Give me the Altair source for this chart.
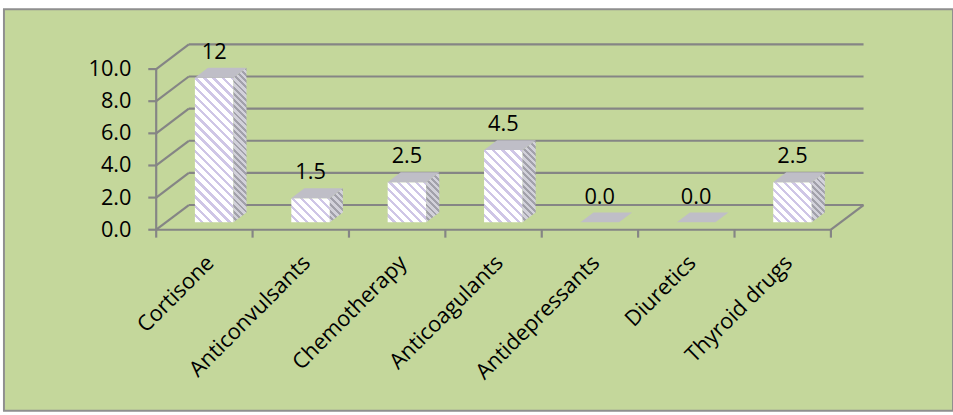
import altair as alt
import pandas as pd

# ---------------- data ----------------
categories = ["Cortisone", "Anticonvulsants", "Chemotherapy", "Anticoagulants",
              "Antidepressants", "Diuretics", "Thyroid drugs"]
bar_values = [9.0, 1.5, 2.5, 4.5, 0.0, 0.0, 2.5]
value_labels = ["12", "1.5", "2.5", "4.5", "0.0", "0.0", "2.5"]
y_ticks = [0, 2, 4, 6, 8, 10]
y_tick_labels = ["0.0", "2.0", "4.0", "6.0", "8.0", "10.0"]

# ---------------- geometry (pixels per data unit, 3-D depth) ----------------
PX, PY = 97.5, 16.25          # px per category / px per value unit
X0, Y0 = 154, 223             # view pixel of (0, 0)
W, H = 960, 406               # view size
DX, DY = 33 / PX, 25 / PY     # full floor depth in data units
BAR_W, F0, F1 = 0.4, 0.3, 0.7 # bar width, bar depth start/end fractions
N = len(categories)
YMAX = max(y_ticks)

xs = alt.Scale(domain=[-X0 / PX, (W - X0) / PX], nice=False, zero=False)
ys = alt.Scale(domain=[(Y0 - H) / PY, Y0 / PY], nice=False, zero=False)

GRID = "#858585"
FONT = "Open Sans"


def stripes(w, h, period, c_a, c_b, frac_b):
    """diagonal '\\' hatch as a linear gradient over a w x h pixel box"""
    a = (w + h) * w / (w * w + h * h)
    n = max(1, int(round((w + h) / (period * 2 ** 0.5))))
    stops = []
    for k in range(n):
        s0, s1 = k / n, (k + 1) / n
        m = s0 + (1 - frac_b) * (s1 - s0)
        stops += [alt.GradientStop(offset=s0, color=c_a), alt.GradientStop(offset=m, color=c_a),
                  alt.GradientStop(offset=m, color=c_b), alt.GradientStop(offset=s1, color=c_b)]
    return alt.LinearGradient(gradient="linear", stops=stops, x1=0, y1=1, x2=a, y2=1 - a * h / w)


# ---------------- wall / floor lines ----------------
seg = []
for t in y_ticks:
    seg.append(dict(x=0, y=t, x2=DX, y2=t + DY))
    seg.append(dict(x=DX, y=t + DY, x2=N + DX, y2=t + DY))
    seg.append(dict(x=-8 / PX, y=t, x2=0, y2=t))
seg.append(dict(x=0, y=0, x2=0, y2=YMAX))
seg.append(dict(x=0, y=0, x2=N, y2=0))
seg.append(dict(x=N, y=0, x2=N + DX, y2=DY))
for i in range(N + 1):
    seg.append(dict(x=i, y=0, x2=i, y2=-8 / PY))
seg_df = pd.DataFrame(seg)

lines = alt.Chart(seg_df).mark_rule(color=GRID, strokeWidth=2.2).encode(
    x=alt.X("x:Q", scale=xs, axis=None),
    y=alt.Y("y:Q", scale=ys, axis=None),
    x2="x2:Q", y2="y2:Q")

# ---------------- bars ----------------
layers_bars = []
top = []
dxb, dyb = (F1 - F0) * DX, (F1 - F0) * DY
for i, (c, v) in enumerate(zip(categories, bar_values)):
    xl = i + 0.5 - BAR_W / 2 + F0 * DX
    xr = xl + BAR_W
    yb = F0 * DY
    top.append(dict(cat=c, y=v + yb, xl=xl, xr=xr))
    top.append(dict(cat=c, y=v + yb + dyb, xl=xl + dxb, xr=xr + dxb))
    if v <= 0:
        continue
    fdf = pd.DataFrame([dict(cat=c, xl=xl, xr=xr, yb=yb, yt=v + yb)])
    fw, fh = BAR_W * PX, v * PY
    layers_bars.append(
        alt.Chart(fdf).mark_rect(fill=stripes(fw, fh, 6.5, "#ffffff", "#cfc6e6", 0.38)).encode(
            x=alt.X("xl:Q", scale=xs, axis=None), x2="xr:Q",
            y=alt.Y("yb:Q", scale=ys, axis=None), y2="yt:Q"))
    sdf = pd.DataFrame([dict(cat=c, x=xr, ylo=yb, yhi=v + yb),
                        dict(cat=c, x=xr + dxb, ylo=yb + dyb, yhi=v + yb + dyb)])
    sw, sh = dxb * PX, v * PY + dyb * PY
    layers_bars.append(
        alt.Chart(sdf).mark_area(fill=stripes(sw, sh, 4.5, "#d2d1da", "#a2a1ab", 0.45), opacity=1).encode(
            x=alt.X("x:Q", scale=xs, axis=None),
            y=alt.Y("ylo:Q", scale=ys, axis=None, stack=None), y2="yhi:Q"))

top_l = alt.Chart(pd.DataFrame(top)).mark_area(color="#bfbec7", opacity=1, orient="horizontal").encode(
    y=alt.Y("y:Q", scale=ys, axis=None),
    x=alt.X("xl:Q", scale=xs, axis=None, stack=None), x2="xr:Q",
    detail="cat:N")

# ---------------- texts ----------------
lab_df = pd.DataFrame(dict(
    x=[i + 0.5 + F0 * DX for i in range(N)],
    y=[v + F1 * DY for v in bar_values],
    t=value_labels))
val_text = alt.Chart(lab_df).mark_text(font=FONT, fontSize=22, baseline="middle",
                                       align="center", dy=-16, color="black").encode(
    x=alt.X("x:Q", scale=xs, axis=None), y=alt.Y("y:Q", scale=ys, axis=None), text="t:N")

yt_df = pd.DataFrame(dict(y=y_ticks, t=y_tick_labels, x=[0] * len(y_ticks)))
y_text = alt.Chart(yt_df).mark_text(font=FONT, fontSize=22, baseline="middle",
                                    align="right", dx=-25, color="black").encode(
    x=alt.X("x:Q", scale=xs, axis=None), y=alt.Y("y:Q", scale=ys, axis=None), text="t:N")

xl_df = pd.DataFrame(dict(
    x=[i + 0.5 + 6 / PX for i in range(N)],
    y=[-30 / PY] * N,
    t=categories))
x_text = alt.Chart(xl_df).mark_text(font=FONT, fontSize=22, baseline="middle",
                                    align="right", angle=315, color="black").encode(
    x=alt.X("x:Q", scale=xs, axis=None), y=alt.Y("y:Q", scale=ys, axis=None), text="t:N")

chart = alt.layer(lines, *layers_bars, top_l, val_text, y_text, x_text).properties(
    width=W, height=H,
    padding={"left": 4, "top": 7, "right": 0, "bottom": 0},
    autosize=alt.AutoSizeParams(type="none"),
    background="white",
).configure_view(fill="#C4D79B", stroke="#8f8f8f", strokeWidth=2)

chart.save("out.html", embed_options={"renderer": "svg", "actions": False})
